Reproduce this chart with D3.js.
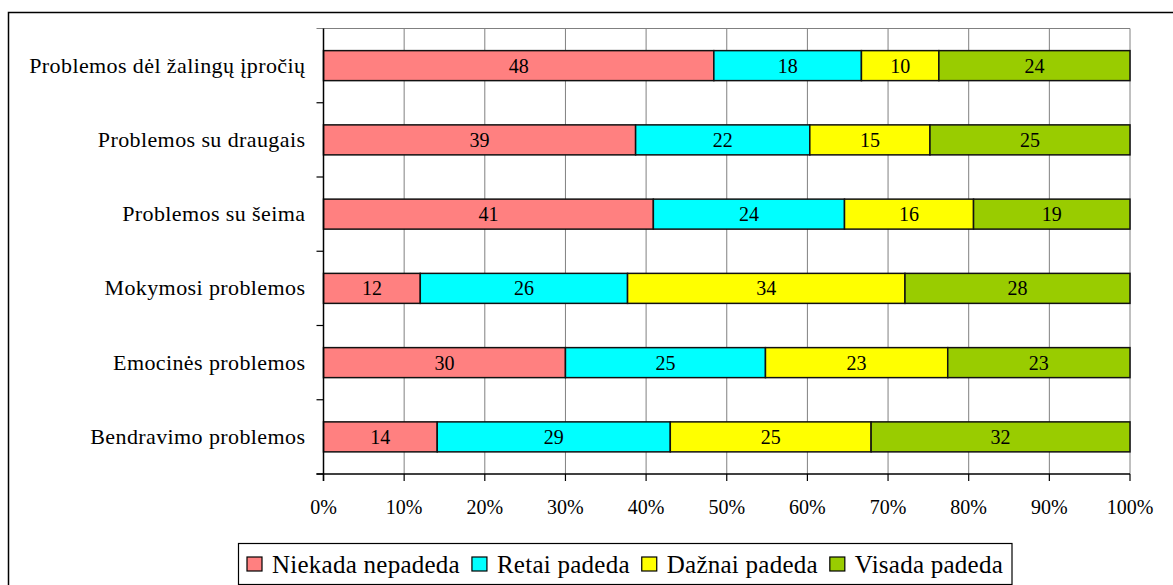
<!DOCTYPE html>
<html>
<head>
<meta charset="utf-8">
<script src="https://cdn.jsdelivr.net/npm/d3@7"></script>
<style>
  html, body { margin: 0; padding: 0; background: #fff; }
  svg { display: block; }
  svg text { font-family: "Liberation Serif", "Times New Roman", serif; }
</style>
</head>
<body>
<svg id="chart" width="1173" height="585"></svg>
<script>
// ---- data ----
const categories = [
  "Problemos dėl žalingų įpročių",
  "Problemos su draugais",
  "Problemos su šeima",
  "Mokymosi problemos",
  "Emocinės problemos",
  "Bendravimo problemos"
];
const seriesNames = ["Niekada nepadeda", "Retai padeda", "Dažnai padeda", "Visada padeda"];
const niekada = [48.4, 38.7, 40.9, 12.0, 30.0, 14.1];
const retai   = [18.3, 21.6, 23.7, 25.7, 24.8, 28.9];
const daznai  = [9.6, 14.9, 16.0, 34.4, 22.6, 24.9];
const visada  = [23.7, 24.8, 19.4, 27.9, 22.6, 32.1];
const xTicks = [0, 10, 20, 30, 40, 50, 60, 70, 80, 90, 100];
const colors = ["#FF8080", "#00FFFF", "#FFFF00", "#99CC00"];

(function () {
const seriesValues = [niekada, retai, daznai, visada];
const rows = categories.map((c, i) => {
  const r = { category: c };
  seriesNames.forEach((s, k) => r[s] = seriesValues[k][i]);
  return r;
});

const svg = d3.select("#chart");

// outer frame
svg.append("rect")
  .attr("x", 8.5).attr("y", 12.5).attr("width", 1200).attr("height", 620)
  .attr("fill", "none").attr("stroke", "#000").attr("stroke-width", 1.5);

const pLeft = 323.5, pRight = 1130, pTop = 28.5, pBottom = 474;
const x = d3.scaleLinear().domain([0, 100]).range([pLeft, pRight]);
const y = d3.scaleBand().domain(categories).range([pTop, pBottom])
  .paddingInner(0.596).paddingOuter(0.298);
const yEdge = d3.scaleLinear().domain([0, categories.length]).range([pTop, pBottom]);

// gridlines
svg.append("g").selectAll("line").data(xTicks.filter(t => t > 0)).join("line")
  .attr("x1", d => x(d)).attr("x2", d => x(d))
  .attr("y1", pTop).attr("y2", pBottom)
  .attr("stroke", "#808080").attr("stroke-width", 1);
svg.append("line").attr("x1", pLeft - 7).attr("x2", pRight).attr("y1", pTop).attr("y2", pTop)
  .attr("stroke", "#808080").attr("stroke-width", 1.2);

// stacked bars
const stack = d3.stack().keys(seriesNames);
const stacked = stack(rows);
const layer = svg.append("g").selectAll("g").data(stacked).join("g")
  .attr("fill", (d, i) => colors[i]);
layer.selectAll("rect").data(d => d).join("rect")
  .attr("x", d => x(d[0]))
  .attr("width", d => x(d[1]) - x(d[0]))
  .attr("y", d => y(d.data.category))
  .attr("height", y.bandwidth())
  .attr("stroke", "#111").attr("stroke-width", 1.5);
layer.selectAll("text").data(d => d).join("text")
  .attr("x", d => (x(d[0]) + x(d[1])) / 2)
  .attr("y", d => y(d.data.category) + y.bandwidth() / 2 + 7)
  .attr("text-anchor", "middle")
  .attr("font-size", 20)
  .attr("fill", "#000")
  .text(d => Math.round(d[1] - d[0]));

// y axis
svg.append("line").attr("x1", pLeft).attr("x2", pLeft).attr("y1", pTop).attr("y2", pBottom + 7)
  .attr("stroke", "#000").attr("stroke-width", 1.5);
svg.append("g").selectAll("line").data(d3.range(categories.length + 1).slice(1)).join("line")
  .attr("x1", pLeft - 7).attr("x2", pLeft)
  .attr("y1", d => yEdge(d)).attr("y2", d => yEdge(d))
  .attr("stroke", "#000").attr("stroke-width", 1.2);
svg.append("g").selectAll("text").data(categories).join("text")
  .attr("x", 305.4)
  .attr("y", d => y(d) + y.bandwidth() / 2 + 7)
  .attr("text-anchor", "end")
  .attr("font-size", 22)
  .attr("letter-spacing", 0.4)
  .attr("fill", "#000")
  .text(d => d);

// x axis
svg.append("line").attr("x1", pLeft - 7).attr("x2", pRight).attr("y1", pBottom).attr("y2", pBottom)
  .attr("stroke", "#000").attr("stroke-width", 1.5);
svg.append("g").selectAll("line").data(xTicks).join("line")
  .attr("x1", d => x(d)).attr("x2", d => x(d))
  .attr("y1", pBottom).attr("y2", pBottom + 7)
  .attr("stroke", "#000").attr("stroke-width", 1.2);
svg.append("g").selectAll("text").data(xTicks).join("text")
  .attr("x", d => x(d))
  .attr("y", 514)
  .attr("text-anchor", "middle")
  .attr("font-size", 20)
  .attr("fill", "#000")
  .text(d => d + "%");

// legend
const legend = svg.append("g");
legend.append("rect").attr("x", 238.5).attr("y", 543.5).attr("width", 773.5).attr("height", 41)
  .attr("fill", "#fff").attr("stroke", "#000").attr("stroke-width", 1.2);
let lx = 247;
seriesNames.forEach((name, i) => {
  legend.append("rect").attr("x", lx).attr("y", 557).attr("width", 15).attr("height", 14)
    .attr("fill", colors[i]).attr("stroke", "#000").attr("stroke-width", 1.2);
  const t = legend.append("text").attr("x", lx + 25).attr("y", 573)
    .attr("font-size", 25).attr("letter-spacing", 0.25).attr("fill", "#000").text(name);
  lx = lx + 25 + t.node().getComputedTextLength() + 12;
});
})();
</script>
</body>
</html>
